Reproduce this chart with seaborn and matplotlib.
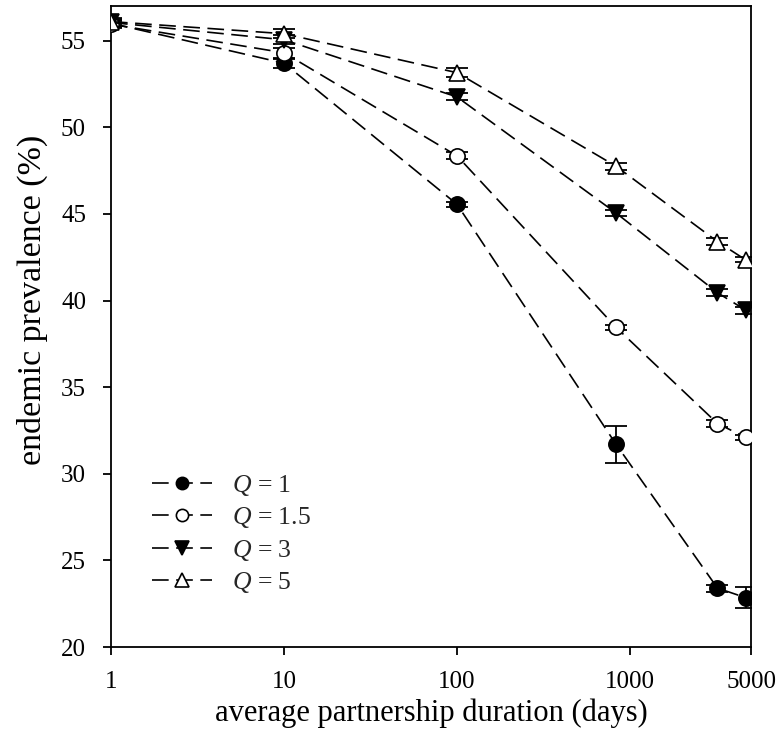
import matplotlib
matplotlib.use("Agg")
import matplotlib.pyplot as plt
import matplotlib.ticker as mticker
import seaborn as sns
import pandas as pd

# ---- data ----
durations = [1, 10, 100, 830, 3200, 4650]
q_labels = ["1", "1.5", "3", "5"]
prev_q1 = [56.0, 53.7, 45.55, 31.7, 23.4, 22.85]
prev_q15 = [55.95, 54.3, 48.35, 38.45, 32.9, 32.1]
prev_q3 = [56.05, 55.05, 51.75, 45.05, 40.45, 39.45]
prev_q5 = [56.1, 55.4, 53.15, 47.75, 43.4, 42.35]
err_q1 = [0.2, 0.25, 0.15, 1.07, 0.2, 0.6]
err_q15 = [0.2, 0.3, 0.2, 0.15, 0.2, 0.15]
err_q3 = [0.2, 0.25, 0.2, 0.15, 0.2, 0.2]
err_q5 = [0.2, 0.25, 0.25, 0.2, 0.2, 0.15]
x_ticks = [1, 10, 100, 1000, 5000]
y_ticks = [20, 25, 30, 35, 40, 45, 50, 55]

series = [
    (q_labels[0], prev_q1, err_q1, "o", "black"),
    (q_labels[1], prev_q15, err_q15, "o", "white"),
    (q_labels[2], prev_q3, err_q3, "v", "black"),
    (q_labels[3], prev_q5, err_q5, "^", "white"),
]

sns.set_theme(style="ticks")
plt.rcParams["font.family"] = ["Liberation Serif", "DejaVu Serif"]
plt.rcParams["mathtext.fontset"] = "custom"
plt.rcParams["mathtext.it"] = "Liberation Serif:italic"
plt.rcParams["mathtext.rm"] = "Liberation Serif"

fig = plt.figure(figsize=(7.81, 7.48), dpi=100)
ax = fig.add_axes([111 / 781, 1 - 647 / 748, 640 / 781, 641 / 748])

dash = (10, 4.5)
data_lines = []
for lab, vals, errs, mk, fc in series:
    df = pd.DataFrame({"duration": durations, "prev": vals})
    ax.errorbar(durations, vals, yerr=errs, fmt="none", ecolor="black",
                elinewidth=1.3, capsize=8, capthick=1.3, zorder=2)
    before = set(ax.lines)
    sns.lineplot(data=df, x="duration", y="prev", ax=ax, color="black",
                 marker=mk, markersize=11 if mk == "o" else 12,
                 markerfacecolor=fc, markeredgecolor="black", markeredgewidth=1.2,
                 linewidth=1.2, label=f"$Q$ = {lab}", zorder=3)
    data_lines += [ln for ln in ax.lines if ln not in before]

for ln in data_lines:
    ln.set_dashes(dash)

ax.set_xscale("log")
ax.set_xlim(1, 5000)
ax.set_ylim(20, 57)
ax.set_xticks(x_ticks)
ax.xaxis.set_major_formatter(mticker.FixedFormatter([str(t) for t in x_ticks]))
ax.xaxis.set_minor_locator(mticker.NullLocator())
ax.set_yticks(y_ticks)

for s in ax.spines.values():
    s.set_color("black")
    s.set_linewidth(1.3)
ax.tick_params(axis="both", direction="out", length=6, width=1.3,
               labelsize=18, colors="black")
ax.tick_params(axis="x", pad=11.5)
ax.tick_params(axis="y", pad=12)
ax.tick_params(top=False, right=False)

ax.set_xlabel("average partnership duration (days)", fontsize=22, color="black")
ax.set_ylabel("endemic prevalence (%)", fontsize=24.5, color="black")
ax.xaxis.set_label_coords(0.5, -0.0796)
ax.yaxis.set_label_coords(-0.098, 0.541)

leg = ax.legend(loc="upper left", bbox_to_anchor=(0.064, 0.271), frameon=False,
                fontsize=18.5, handlelength=2.33, handletextpad=0.78,
                labelspacing=0.28, borderaxespad=0, borderpad=0, markerscale=0.8)

fig.savefig("out.png", dpi=100)
